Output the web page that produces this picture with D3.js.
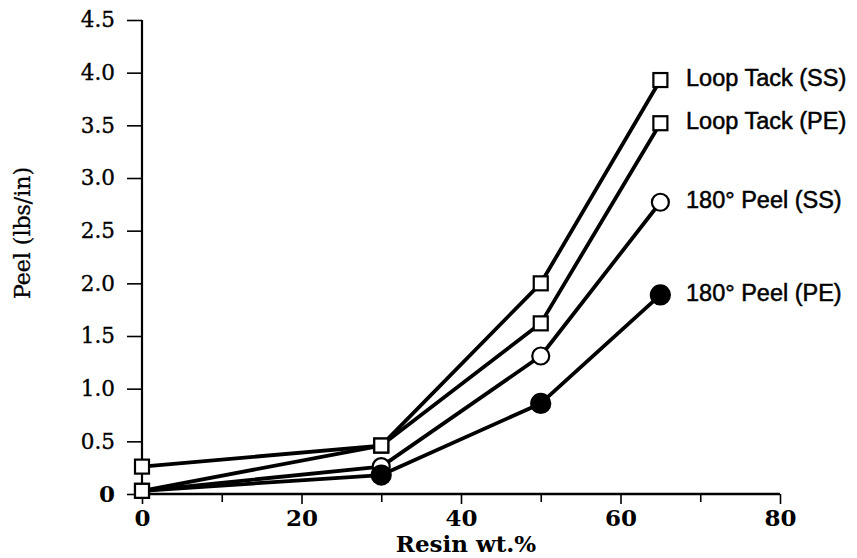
<!DOCTYPE html>
<html>
<head>
<meta charset="utf-8">
<script src="https://cdn.jsdelivr.net/npm/d3@7"></script>
<style>
  html, body { margin: 0; padding: 0; background: #fff; }
  svg { display: block; }
</style>
</head>
<body>
<svg id="chart" width="857" height="558"></svg>
<script>
// ---- data ----
const resinWt = [0, 30, 50, 65];
const loopTackSS = [0.26, 0.46, 2.0, 3.93];
const loopTackPE = [0.03, 0.46, 1.62, 3.52];
const peelSS = [0.03, 0.26, 1.31, 2.77];
const peelPE = [0.03, 0.18, 0.86, 1.89];
const seriesNames = ["Loop Tack (SS)", "Loop Tack (PE)", "180° Peel (SS)", "180° Peel (PE)"];
const seriesMarkers = ["square", "square", "openCircle", "filledCircle"];
const yTicks = [0, 0.5, 1.0, 1.5, 2.0, 2.5, 3.0, 3.5, 4.0, 4.5];
const xTicks = [0, 20, 40, 60, 80];
const xMinorTicks = [10, 30, 50, 70];
const xTitle = "Resin wt.%";
const yTitle = "Peel (lbs/in)";

const seriesValues = [loopTackSS, loopTackPE, peelSS, peelPE];

const svg = d3.select("#chart");
const x = d3.scaleLinear().domain([0, 80]).range([142, 780]);
const y = d3.scaleLinear().domain([0, 4.5]).range([494, 20]);

// ---- axes ----
const yAxis = svg.append("g").attr("transform", `translate(${x(0)},0)`)
  .call(d3.axisLeft(y).tickValues(yTicks).tickSize(15).tickPadding(12)
    .tickFormat(d => d === 0 ? "0" : d3.format(".1f")(d)));
yAxis.select(".domain").remove();
yAxis.append("line").attr("x1", 0).attr("x2", 0).attr("y1", y(4.5)).attr("y2", y(0))
  .attr("stroke", "#000").attr("stroke-width", 2.2);
yAxis.selectAll(".tick line").attr("stroke", "#000").attr("stroke-width", 1.6);
yAxis.selectAll(".tick text")
  .attr("font-family", "DejaVu Serif").attr("font-size", d => d === 0 ? 23 : 21.5).attr("fill", "#000")
  .attr("stroke", "#000").attr("stroke-width", d => d === 0 ? 0 : 0.35)
  .attr("font-weight", d => d === 0 ? "bold" : "normal");

const xAxis = svg.append("g").attr("transform", `translate(0,${y(0)})`)
  .call(d3.axisBottom(x).tickValues(xTicks).tickSize(10).tickPadding(6).tickFormat(d3.format("d")));
xAxis.select(".domain").remove();
xAxis.append("line").attr("x1", x(0) - 8).attr("x2", x(80)).attr("y1", 0).attr("y2", 0)
  .attr("stroke", "#000").attr("stroke-width", 2.6);
xAxis.selectAll(".tick line").attr("stroke", "#000").attr("stroke-width", 1.6);
xAxis.selectAll(".tick text")
  .attr("font-family", "DejaVu Serif").attr("font-size", 23).attr("font-weight", "bold").attr("fill", "#000");

const xMinor = svg.append("g").attr("transform", `translate(0,${y(0)})`)
  .call(d3.axisBottom(x).tickValues(xMinorTicks).tickSize(8).tickFormat(""));
xMinor.select(".domain").remove();
xMinor.selectAll(".tick line").attr("stroke", "#000").attr("stroke-width", 1.6);

// axis titles
svg.append("text").attr("x", 466).attr("y", 552).attr("text-anchor", "middle")
  .attr("font-family", "DejaVu Serif").attr("font-weight", "bold").attr("font-size", 23)
  .text(xTitle);
svg.append("text").attr("transform", "translate(30,233) rotate(-90)").attr("text-anchor", "middle")
  .attr("font-family", "DejaVu Serif").attr("font-size", 22)
  .attr("stroke", "#000").attr("stroke-width", 0.3)
  .text(yTitle);

// ---- lines ----
const line = d3.line().x((d, i) => x(resinWt[i])).y(d => y(d));
svg.append("g").selectAll("path").data(seriesValues).join("path")
  .attr("d", d => line(d)).attr("fill", "none").attr("stroke", "#000")
  .attr("stroke-width", 3.8).attr("stroke-linejoin", "round");

// ---- markers ----
seriesValues.forEach((vals, s) => {
  const g = svg.append("g");
  const kind = seriesMarkers[s];
  if (kind === "square") {
    g.selectAll("rect").data(vals).join("rect")
      .attr("x", (d, i) => x(resinWt[i]) - 7).attr("y", d => y(d) - 7)
      .attr("width", 14).attr("height", 14)
      .attr("fill", "#fff").attr("stroke", "#000").attr("stroke-width", 2.2);
  } else {
    g.selectAll("circle").data(vals.map((v, i) => [resinWt[i], v]).filter(p => p[0] > 0)).join("circle")
      .attr("cx", d => x(d[0])).attr("cy", d => y(d[1]))
      .attr("r", kind === "openCircle" ? 8.5 : 9.5)
      .attr("fill", kind === "openCircle" ? "#fff" : "#000")
      .attr("stroke", "#000").attr("stroke-width", 2.2);
  }
});
// redraw the x=0 square on top (shared origin marker)
svg.append("rect").attr("x", x(resinWt[0]) - 7).attr("y", y(peelPE[0]) - 7)
  .attr("width", 14).attr("height", 14)
  .attr("fill", "#fff").attr("stroke", "#000").attr("stroke-width", 2.2);

// ---- series labels ----
svg.append("g").selectAll("text").data(seriesNames).join("text")
  .attr("x", 686).attr("y", (d, i) => y(seriesValues[i][seriesValues[i].length - 1]) - 2)
  .attr("dominant-baseline", "central")
  .attr("font-family", "Liberation Sans, Arial, sans-serif").attr("font-size", 23.5)
  .attr("fill", "#000").attr("stroke", "#000").attr("stroke-width", 0.5)
  .text(d => d);
</script>
</body>
</html>
